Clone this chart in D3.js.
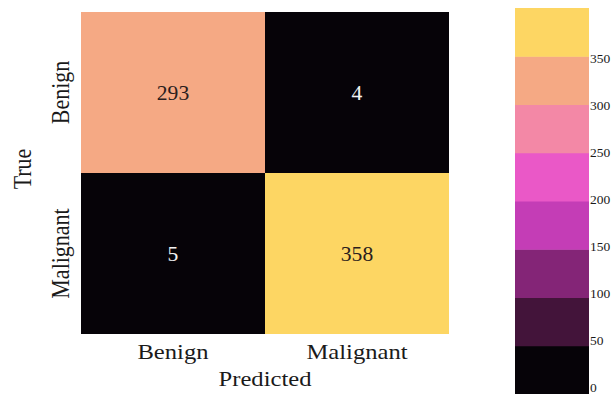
<!DOCTYPE html>
<html>
<head>
<meta charset="utf-8">
<script src="https://cdn.jsdelivr.net/npm/d3@7"></script>
<style>
  html, body { margin: 0; padding: 0; background: #fff; }
  svg { display: block; }
</style>
</head>
<body>
<svg id="chart" width="611" height="394"></svg>
<script>
// Confusion matrix: rows = true class, columns = predicted class
const trueLabels = ["Benign", "Malignant"];
const predLabels = ["Benign", "Malignant"];
const counts = [
  [293, 4],
  [5, 358]
];

// Discrete palette, low to high
const palette = ["#060308", "#43143a", "#842577", "#c43db6", "#ea58c7", "#f388a6", "#f5a984", "#fdd663"];
const colorbarTicks = [0, 50, 100, 150, 200, 250, 300, 350];

const serif = "'Liberation Serif', 'Times New Roman', serif";
const ink = "#1a1a1a";
const stretch = 1.12; // glyphs are drawn slightly wide
const svg = d3.select("#chart");

// Heatmap scales
const x = d3.scaleBand().domain(predLabels).range([81, 449]);
const y = d3.scaleBand().domain(trueLabels).range([12, 334]);

const flat = counts.flatMap((row, i) => row.map((v, j) => ({ t: trueLabels[i], p: predLabels[j], v })));
const vals = flat.map(d => d.v);
const color = d3.scaleQuantize().domain([d3.min(vals), d3.max(vals)]).range(palette);

svg.append("g").selectAll("rect").data(flat).join("rect")
  .attr("x", d => x(d.p))
  .attr("y", d => y(d.t))
  .attr("width", x.bandwidth())
  .attr("height", y.bandwidth())
  .attr("fill", d => color(d.v));

// Cell annotations
svg.append("g").selectAll("text").data(flat).join("text")
  .attr("transform", d => `translate(${x(d.p) + x.bandwidth() / 2},${y(d.t) + y.bandwidth() / 2 + 7}) scale(1.08,1)`)
  .attr("text-anchor", "middle")
  .style("font-family", serif)
  .style("font-size", "20px")
  .attr("fill", d => d3.lab(color(d.v)).l > 50 ? "#2b1d1d" : "#f2f2f2")
  .text(d => d.v);

// X axis (predicted)
const xAxis = svg.append("g").attr("transform", "translate(0,334)")
  .call(d3.axisBottom(x).tickSize(0));
xAxis.select(".domain").remove();
xAxis.selectAll("text")
  .style("font-size", "22px").style("font-family", serif).attr("fill", ink)
  .attr("y", 25).attr("dy", 0)
  .attr("transform", `scale(${stretch},1)`);

// Y axis (true)
const yAxis = svg.append("g").attr("transform", "translate(81,0)")
  .call(d3.axisLeft(y).tickSize(0));
yAxis.select(".domain").remove();
yAxis.selectAll("text")
  .style("font-size", "22px").style("font-family", serif).attr("fill", ink)
  .attr("text-anchor", "middle")
  .attr("dy", 0)
  .attr("x", 0)
  .attr("transform", `translate(-12,0) rotate(-90) scale(1,${stretch})`);

// Axis titles
svg.append("text")
  .attr("transform", `translate(265,386) scale(${stretch},1)`)
  .attr("text-anchor", "middle")
  .style("font-size", "22px").style("font-family", serif).attr("fill", ink)
  .text("Predicted");

svg.append("text")
  .attr("transform", `translate(31,169) rotate(-90) scale(1,${stretch})`)
  .attr("text-anchor", "middle")
  .style("font-size", "22px").style("font-family", serif).attr("fill", ink)
  .text("True");

// Colorbar
const cbX = 515, cbW = 74, cbTop = 8, cbBottom = 394;
const band = d3.scaleBand().domain(d3.range(palette.length).reverse()).range([cbTop, cbBottom]);
svg.append("g").selectAll("rect").data(palette).join("rect")
  .attr("x", cbX)
  .attr("y", (c, i) => band(i))
  .attr("width", cbW)
  .attr("height", band.bandwidth() + 0.5)
  .attr("fill", c => c);

const cbScale = d3.scaleLinear().domain([0, 400]).range([387, 11]);
const cbAxis = svg.append("g").attr("transform", `translate(${cbX + cbW},0)`)
  .call(d3.axisRight(cbScale).tickValues(colorbarTicks).tickSize(0).tickPadding(1));
cbAxis.select(".domain").remove();
cbAxis.selectAll("text").style("font-size", "13.5px").style("font-family", serif).attr("fill", ink);
</script>
</body>
</html>
